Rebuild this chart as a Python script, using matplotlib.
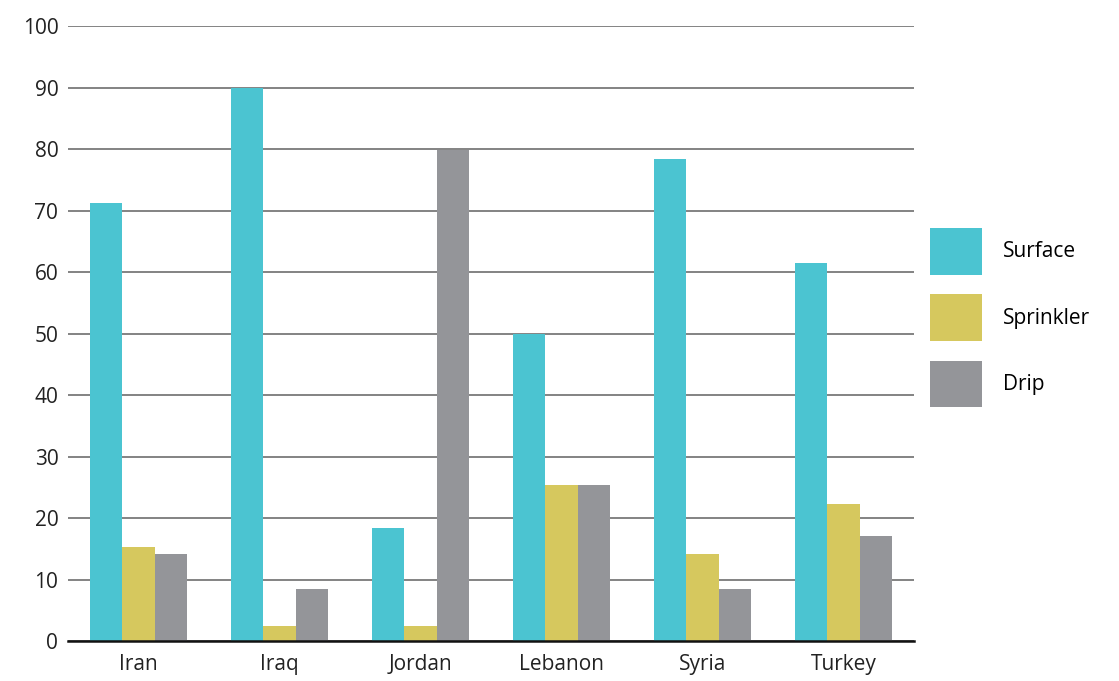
import matplotlib

matplotlib.use("Agg")
import matplotlib.pyplot as plt
import numpy as np

countries = ["Iran", "Iraq", "Jordan", "Lebanon", "Syria", "Turkey"]
surface = [71.3, 90.0, 18.4, 50.0, 78.4, 61.5]
sprinkler = [15.3, 2.4, 2.4, 25.4, 14.1, 22.3]
drip = [14.1, 8.5, 79.8, 25.4, 8.5, 17.1]

series_names = ["Surface", "Sprinkler", "Drip"]
colors = ["#4bc4d1", "#d6c85e", "#949599"]

plt.rcParams["font.family"] = ["Open Sans", "DejaVu Sans"]

fig = plt.figure(figsize=(11.19, 6.81), dpi=100)
ax = fig.add_axes([0.0608, 0.0587, 0.7560, 0.9031])

x = np.arange(len(countries))
w = 0.228
for i, (vals, name, c) in enumerate(zip([surface, sprinkler, drip], series_names, colors)):
    ax.bar(x + (i - 1) * w, vals, width=w, color=c, label=name, zorder=3)

ax.set_xlim(-0.5, len(countries) - 0.5)
ax.set_ylim(0, 100)
ax.set_yticks(range(0, 101, 10))
ax.set_xticks(x)
ax.set_xticklabels(countries)
ax.yaxis.grid(True, color="#7a7a7a", linewidth=1.3, zorder=0)
ax.set_axisbelow(True)
for s in ["top", "right", "left"]:
    ax.spines[s].set_visible(False)
ax.spines["bottom"].set_color("#111111")
ax.spines["bottom"].set_linewidth(1.8)
ax.spines["bottom"].set_zorder(4)
ax.tick_params(axis="both", length=0, labelsize=15, colors="#222222")
ax.tick_params(axis="y", pad=7)
ax.tick_params(axis="x", pad=9)

fig.legend(loc="upper left", bbox_to_anchor=(0.831, 0.665), frameon=False,
           fontsize=15, handlelength=2.5, handleheight=3.05, labelspacing=0.95,
           handletextpad=1.0, borderpad=0, borderaxespad=0)

fig.savefig("out.png", dpi=100, facecolor="white")
